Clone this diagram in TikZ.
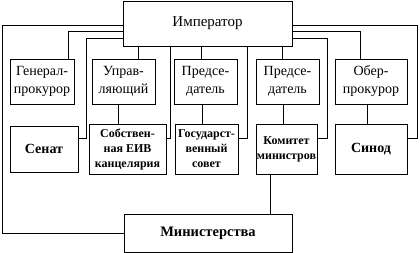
\documentclass[tikz,border=0pt]{standalone}
\usepackage{fontspec}
\setmainfont{Liberation Serif}
\tikzset{
  box/.style={draw, line width=0.9pt, align=center, inner sep=0pt},
  upbox/.style={box, font=\fontsize{14}{18}\selectfont, minimum height=45pt},
  lowbox/.style={box, font=\fontsize{12}{15}\selectfont\bfseries, minimum height=50pt},
  link/.style={line width=0.9pt}
}
\begin{document}
\begin{tikzpicture}[x=1pt,y=1pt]
  \useasboundingbox (0,0) rectangle (420,253);
  % Император
  \node[upbox, font=\fontsize{15}{18}\selectfont, minimum width=169pt] (imp) at (207.5,229.5) {Император};
  % второй ряд
  \node[upbox, minimum width=64pt] (gen) at (42,171.5) {Генерал-\\прокурор};
  \node[upbox, minimum width=63pt] (upr) at (123.5,171.5) {Управ-\\ляющий};
  \node[upbox, minimum width=63pt] (pr1) at (205.5,171.5) {Предсе-\\датель};
  \node[upbox, minimum width=63pt] (pr2) at (287.5,171.5) {Предсе-\\датель};
  \node[upbox, minimum width=72pt] (ob) at (371,171.5) {Обер-\\прокурор};
  % третий ряд
  \node[lowbox, font=\fontsize{14}{16}\selectfont\bfseries, minimum width=68pt, minimum height=46pt] (sen) at (44,104) {Сенат};
  \node[lowbox, minimum width=77pt] (sob) at (127.5,104) {Собствен-\\ная ЕИВ\\канцелярия};
  \node[lowbox, minimum width=63pt] (gos) at (206.5,104) {Государст-\\венный\\совет};
  \node[lowbox, minimum width=61pt] (kom) at (286.5,104) {Комитет\\министров};
  \node[lowbox, font=\fontsize{14}{16}\selectfont\bfseries, minimum width=72pt] (sin) at (371,104) {Синод};
  % Министерства
  \node[box, font=\fontsize{14.5}{16}\selectfont\bfseries, minimum width=168pt, minimum height=38pt] (min) at (208,20) {Министерства};
  % внешние линии
  \draw[link] ([yshift=-1.5pt]imp.west) -| ([xshift=-121pt]min.west) -- (min.west);
  \draw[link] ([yshift=-1.5pt]imp.east) -| ([xshift=10pt,yshift=11pt]sin.east) -- ([yshift=11pt]sin.east);
  % к прокурорам
  \draw[link] ([yshift=-7.5pt]imp.west) -| ([xshift=26pt]gen.north);
  \draw[link] ([yshift=-7.5pt]imp.east) -| ([xshift=-11pt]ob.north);
  % к Сенату и Комитету
  \draw[link] ([yshift=-14.5pt]imp.west) -| ([xshift=8pt,yshift=11pt]sen.east) -- ([yshift=11pt]sen.east);
  \draw[link] ([yshift=-14.5pt]imp.east) -| ([xshift=10pt,yshift=11pt]kom.east) -- ([yshift=11pt]kom.east);
  % к канцелярии и совету
  \draw[link] ([xshift=-37.5pt]imp.south) |- ([yshift=11pt]sob.east);
  \draw[link] ([xshift=39.5pt]imp.south) |- ([yshift=11pt]gos.east);
  % к управляющему и председателям
  \draw[link] ([xshift=14.5pt]upr.north) -- ([xshift=14.5pt]upr.north |- imp.south);
  \draw[link] ([xshift=-4.5pt]pr1.north) -- ([xshift=-4.5pt]pr1.north |- imp.south);
  \draw[link] ([xshift=-5.5pt]pr2.north) -- ([xshift=-5.5pt]pr2.north |- imp.south);
  % второй ряд -- третий ряд
  \draw[link] ([xshift=-5.5pt]upr.south) -- ([xshift=-5.5pt]upr.south |- sob.north);
  \draw[link] ([xshift=-3.5pt]pr1.south) -- ([xshift=-3.5pt]pr1.south |- gos.north);
  \draw[link] ([xshift=-4.5pt]pr2.south) -- ([xshift=-4.5pt]pr2.south |- kom.north);
  \draw[link] ([xshift=-4pt]ob.south) -- ([xshift=-4pt]ob.south |- sin.north);
  % Комитет -- Министерства
  \draw[link] ([xshift=-16.5pt]kom.south) -- ([xshift=-16.5pt]kom.south |- min.north);
\end{tikzpicture}
\end{document}
